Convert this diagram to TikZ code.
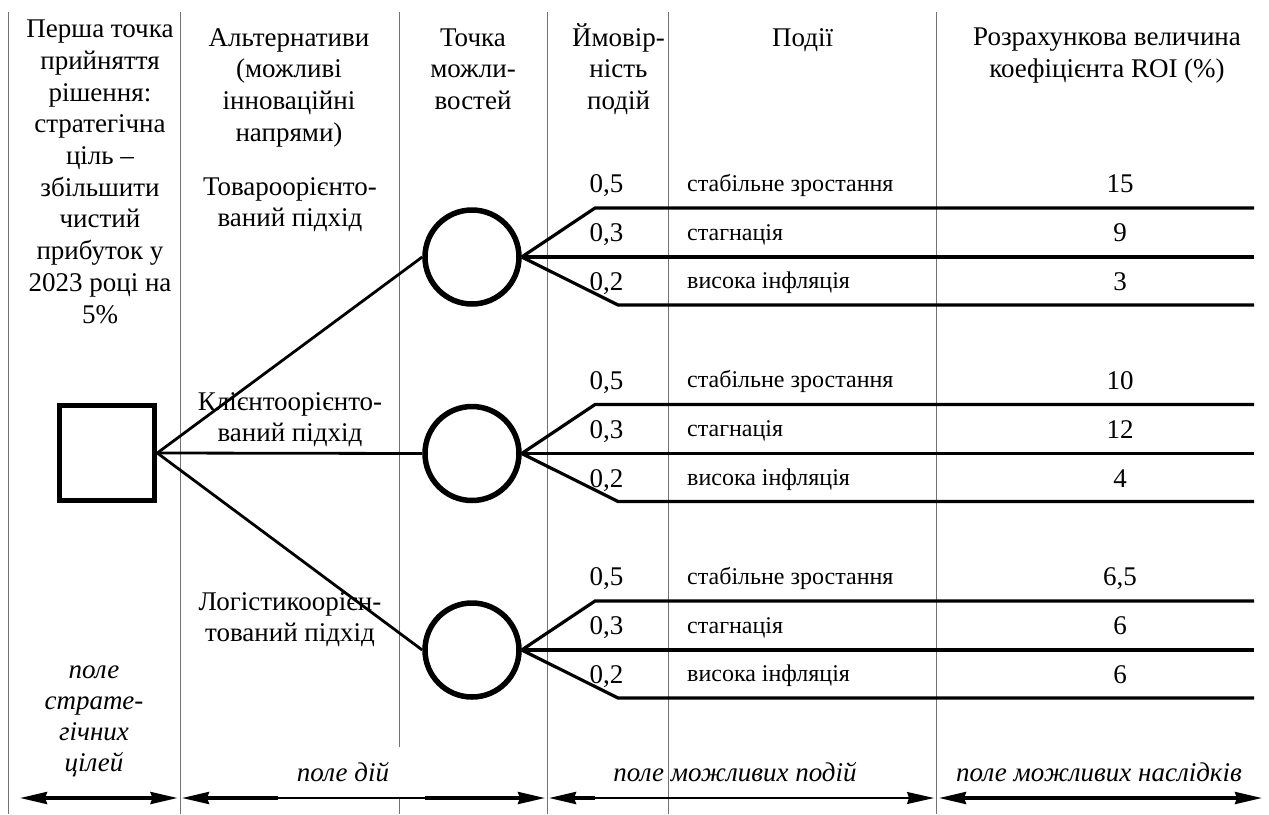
\documentclass[tikz,border=0pt]{standalone}
\usepackage{fontspec}
\setmainfont{Liberation Serif}
\usetikzlibrary{arrows.meta}
\newcommand\fl{\rule{0pt}{25pt}}
\begin{document}
\begin{tikzpicture}[x=1pt,y=-1pt,
  hdr/.style={font=\fontsize{27}{31.7}\selectfont, align=center, inner sep=0pt, anchor=north},
  ital/.style={font=\fontsize{27}{31}\selectfont\itshape, align=center, inner sep=0pt},
  txt/.style={font=\fontsize{27}{31.7}\selectfont, inner sep=0pt, anchor=base},
  evt/.style={font=\fontsize{24}{28}\selectfont, inner sep=0pt, anchor=base west},
  sepline/.style={draw=black!55, line width=1pt},
  branch/.style={line width=3.2pt},
  link/.style={line width=2.8pt},
  chance/.style={circle, draw, line width=5.5pt, minimum size=94pt, inner sep=0pt},
  decision/.style={rectangle, draw, line width=5.5pt, minimum size=95pt, inner sep=0pt},
  arrthick/.style={line width=3.2pt},
  arrthin/.style={line width=1.3pt},
  hd/.tip={Stealth[length=27pt,width=12pt,inset=2pt]},
]
\useasboundingbox (0,0) rectangle (1269,814);

% column separators
\foreach \i/\x in {1/8.5,2/180,3/547.5,4/668.5,5/936}{
  \coordinate (v\i t) at (\x,12);
  \coordinate (v\i b) at (\x,814);
  \draw[sepline] (v\i t) -- (v\i b);
}
\coordinate (v6t) at (399,12);
\coordinate (v6m) at (399,747);
\coordinate (v6n) at (399,797);
\coordinate (v6b) at (399,814);
\draw[sepline] (v6t) -- (v6m);
\draw[sepline] (v6n) -- (v6b);

% headers
\node[hdr] (h1) at (100,12.5) {\fl Перша точка\\прийняття\\рішення:\\стратегічна\\ціль –\\збільшити\\чистий\\прибуток у\\2023 році на\\5\%};
\node[hdr] (h2) at (289,21) {\fl Альтернативи\\(можливі\\інноваційні\\напрями)};
\node[hdr] (h3) at (473,21) {\fl Точка\\можли-\\востей};
\node[hdr] (h4) at (618.5,21) {\fl Ймовір-\\ність\\подій};
\node[hdr] (h5) at (802.5,21) {\fl Події};
\node[hdr] (h6) at (1107,20.5) {\fl Розрахункова величина\\коефіцієнта ROI (\%)};

% alternatives
\node[hdr] (alt1) at (290,170) {\fl Товароорієнто-\\ваний підхід};
\node[hdr] (alt2) at (290,385) {\fl Клієнтоорієнто-\\ваний підхід};
\node[hdr] (alt3) at (290,585) {\fl Логістикоорієн-\\тований підхід};

% decision node
\node[decision] (sq) at (107,453) {};

% chance nodes with branches
\foreach \g/\va/\vb/\vc in {0/15/9/3,1/10/12/4,2/{6,5}/6/6}{
  \pgfmathsetmacro\cy{257+196.5*\g}
  \node[chance] (c\g) at (472,\cy) {};
  \coordinate (u\g) at (595,\cy-49);
  \coordinate (ue\g) at (1254,\cy-49);
  \coordinate (me\g) at (1254,\cy);
  \coordinate (d\g) at (618,\cy+48);
  \coordinate (de\g) at (1254,\cy+48);
  \draw[branch] (c\g.east) -- (u\g) -- (ue\g);
  \draw[branch] (c\g.east) -- (me\g);
  \draw[branch] (c\g.east) -- (d\g) -- (de\g);
  \draw[link] (sq.east) -- (c\g.west);
  \node[txt] (pa\g) at (606.5,\cy-64.5) {0,5};
  \node[txt] (pb\g) at (606.5,\cy-15.5) {0,3};
  \node[txt] (pc\g) at (606.5,\cy+33.5) {0,2};
  \node[evt] (ea\g) at (687,\cy-66) {стабільне зростання};
  \node[evt] (eb\g) at (687,\cy-17) {стагнація};
  \node[evt] (ec\g) at (687,\cy+31.5) {висока інфляція};
  \node[txt] (ra\g) at (1120,\cy-64.5) {\va};
  \node[txt] (rb\g) at (1120,\cy-15.5) {\vb};
  \node[txt] (rc\g) at (1120,\cy+33.5) {\vc};
}

% field labels
\node[ital, anchor=north] (f1) at (94,653) {\fl поле\\страте-\\гічних\\цілей};
\node[ital, anchor=base] (f2) at (343,781.5) {поле дій};
\node[ital, anchor=base] (f3) at (735,781.5) {поле можливих подій};
\node[ital, anchor=base] (f4) at (1099,781.5) {поле можливих наслідків};

% field arrows
\coordinate (a1l) at (20,798);
\coordinate (a1r) at (177.5,798);
\draw[arrthick,hd-hd] (a1l) -- (a1r);
\coordinate (a2l) at (182,798);
\coordinate (a2m) at (277.5,798);
\coordinate (a2n) at (424.5,798);
\coordinate (a2r) at (545,798);
\draw[arrthick,hd-] (a2l) -- (a2m);
\draw[arrthin] (a2m) -- (a2n);
\draw[arrthick,-hd] (a2n) -- (a2r);
\coordinate (a3l) at (549,798);
\coordinate (a3m) at (595,798);
\coordinate (a3r) at (934,798);
\draw[arrthick,hd-] (a3l) -- (a3m);
\draw[arrthin,-hd] (a3m) -- (a3r);
\coordinate (a4l) at (939,798);
\coordinate (a4r) at (1262,798);
\draw[arrthick,hd-hd] (a4l) -- (a4r);
\end{tikzpicture}
\end{document}
